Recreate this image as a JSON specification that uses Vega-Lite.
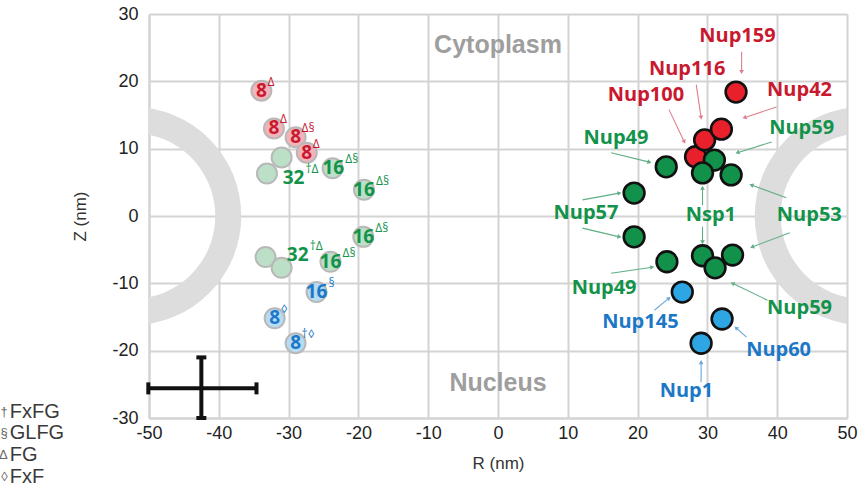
{
  "$schema": "https://vega.github.io/schema/vega-lite/v6.json",
  "width": 698,
  "height": 404,
  "autosize": {"type": "none"},
  "padding": {"left": 149, "top": 14, "right": 21, "bottom": 73},
  "background": "white",
  "datasets": {
    "rings": [{"R": -52.4, "Z": 0}, {"R": 52.4, "Z": 0}],
    "errh": [{"R": -50.1, "R2": -34.6, "Z": -25.6}],
    "errv": [{"R": -42.5, "Z": -21.0, "Z2": -30.0}],
    "capv": [{"R": -50.1, "Z": -25.6}, {"R": -34.6, "Z": -25.6}],
    "caph": [{"R": -42.5, "Z": -21.0}, {"R": -42.5, "Z": -30.0}],
    "arrows": [
      {"R": 34.9, "Z": 24.4, "R2": 34.9, "Z2": 21.4, "grp": "red"},
      {"R": 28.4, "Z": 19.5, "R2": 29.1, "Z2": 14.6, "grp": "red"},
      {"R": 24.5, "Z": 15.8, "R2": 26.7, "Z2": 11.0, "grp": "red"},
      {"R": 39.9, "Z": 16.2, "R2": 35.3, "Z2": 14.6, "grp": "red"},
      {"R": 16.2, "Z": 9.4, "R2": 21.7, "Z2": 8.0, "grp": "green"},
      {"R": 39.2, "Z": 11.0, "R2": 34.3, "Z2": 9.4, "grp": "green"},
      {"R": 12.1, "Z": 2.4, "R2": 17.4, "Z2": 3.4, "grp": "green"},
      {"R": 12.1, "Z": -1.8, "R2": 17.4, "Z2": -3.1, "grp": "green"},
      {"R": 29.3, "Z": 1.6, "R2": 29.3, "Z2": 4.2, "grp": "green"},
      {"R": 29.3, "Z": -1.6, "R2": 29.3, "Z2": -3.9, "grp": "green"},
      {"R": 41.3, "Z": 2.7, "R2": 36.3, "Z2": 4.6, "grp": "green"},
      {"R": 41.8, "Z": -2.5, "R2": 36.4, "Z2": -4.6, "grp": "green"},
      {"R": 16.2, "Z": -8.5, "R2": 22.1, "Z2": -7.6, "grp": "green"},
      {"R": 38.6, "Z": -12.5, "R2": 33.6, "Z2": -10.0, "grp": "green"},
      {"R": 22.4, "Z": -14.0, "R2": 24.5, "Z2": -12.2, "grp": "blue"},
      {"R": 35.6, "Z": -18.0, "R2": 34.1, "Z2": -16.6, "grp": "blue"},
      {"R": 29.1, "Z": -24.7, "R2": 29.1, "Z2": -21.7, "grp": "blue"}
    ],
    "faded": [
      {"R": -33.9, "Z": 18.6, "grp": "red"},
      {"R": -32.1, "Z": 13.0, "grp": "red"},
      {"R": -29.0, "Z": 11.7, "grp": "red"},
      {"R": -27.4, "Z": 9.4, "grp": "red"},
      {"R": -31.0, "Z": 8.7, "grp": "green"},
      {"R": -33.1, "Z": 6.3, "grp": "green"},
      {"R": -23.7, "Z": 7.1, "grp": "green"},
      {"R": -19.2, "Z": 3.9, "grp": "green"},
      {"R": -19.3, "Z": -3.1, "grp": "green"},
      {"R": -33.3, "Z": -6.1, "grp": "green"},
      {"R": -31.0, "Z": -7.7, "grp": "green"},
      {"R": -24.0, "Z": -6.8, "grp": "green"},
      {"R": -26.0, "Z": -11.3, "grp": "blue"},
      {"R": -32.0, "Z": -15.2, "grp": "blue"},
      {"R": -29.0, "Z": -18.9, "grp": "blue"}
    ],
    "nums": [
      {"R": -33.9, "Z": 18.6, "num": "8", "sup": "Δ", "grp": "red"},
      {"R": -32.1, "Z": 13.0, "num": "8", "sup": "Δ", "grp": "red"},
      {"R": -29.0, "Z": 11.7, "num": "8", "sup": "Δ§", "grp": "red"},
      {"R": -27.4, "Z": 9.4, "num": "8", "sup": "Δ", "grp": "red"},
      {"R": -29.3, "Z": 5.6, "num": "32", "sup": "†Δ", "grp": "green"},
      {"R": -23.6, "Z": 7.1, "num": "16", "sup": "Δ§", "grp": "green"},
      {"R": -19.2, "Z": 3.9, "num": "16", "sup": "Δ§", "grp": "green"},
      {"R": -19.3, "Z": -3.1, "num": "16", "sup": "Δ§", "grp": "green"},
      {"R": -28.7, "Z": -5.8, "num": "32", "sup": "†Δ", "grp": "green"},
      {"R": -24.0, "Z": -6.8, "num": "16", "sup": "Δ§", "grp": "green"},
      {"R": -26.0, "Z": -11.3, "num": "16", "sup": "§", "grp": "blue"},
      {"R": -32.0, "Z": -15.2, "num": "8", "sup": "◊", "grp": "blue"},
      {"R": -29.0, "Z": -18.9, "num": "8", "sup": "†◊", "grp": "blue"}
    ],
    "nups": [
      {"name": "Nup100", "R": 28.3, "Z": 8.8, "grp": "red"},
      {"name": "Nup116", "R": 29.6, "Z": 11.3, "grp": "red"},
      {"name": "Nup42", "R": 32.0, "Z": 12.9, "grp": "red"},
      {"name": "Nup159", "R": 34.1, "Z": 18.4, "grp": "red"},
      {"name": "Nup49", "R": 24.1, "Z": 7.3, "grp": "green"},
      {"name": "Nup57", "R": 19.5, "Z": 3.4, "grp": "green"},
      {"name": "Nup59", "R": 31.0, "Z": 8.3, "grp": "green"},
      {"name": "Nsp1", "R": 29.3, "Z": 6.4, "grp": "green"},
      {"name": "Nup53", "R": 33.4, "Z": 6.1, "grp": "green"},
      {"name": "Nup57", "R": 19.5, "Z": -3.1, "grp": "green"},
      {"name": "Nup49", "R": 24.2, "Z": -6.8, "grp": "green"},
      {"name": "Nsp1", "R": 29.3, "Z": -5.9, "grp": "green"},
      {"name": "Nup53", "R": 33.6, "Z": -5.8, "grp": "green"},
      {"name": "Nup59", "R": 31.1, "Z": -7.7, "grp": "green"},
      {"name": "Nup145", "R": 26.4, "Z": -11.3, "grp": "blue"},
      {"name": "Nup60", "R": 32.1, "Z": -15.3, "grp": "blue"},
      {"name": "Nup1", "R": 29.1, "Z": -18.9, "grp": "blue"}
    ],
    "labels": [
      {"name": "Nup159", "R": 34.3, "Z": 26.7, "grp": "red"},
      {"name": "Nup116", "R": 27.1, "Z": 21.8, "grp": "red"},
      {"name": "Nup100", "R": 21.2, "Z": 18.0, "grp": "red"},
      {"name": "Nup42", "R": 43.2, "Z": 18.7, "grp": "red"},
      {"name": "Nup49", "R": 16.9, "Z": 11.6, "grp": "green"},
      {"name": "Nup59", "R": 43.5, "Z": 13.1, "grp": "green"},
      {"name": "Nup57", "R": 12.6, "Z": 0.4, "grp": "green"},
      {"name": "Nsp1", "R": 30.5, "Z": 0.1, "grp": "green"},
      {"name": "Nup53", "R": 44.6, "Z": 0.1, "grp": "green"},
      {"name": "Nup49", "R": 15.2, "Z": -10.7, "grp": "green"},
      {"name": "Nup59", "R": 43.2, "Z": -13.7, "grp": "green"},
      {"name": "Nup145", "R": 20.4, "Z": -15.8, "grp": "blue"},
      {"name": "Nup60", "R": 40.2, "Z": -19.9, "grp": "blue"},
      {"name": "Nup1", "R": 27.0, "Z": -26.0, "grp": "blue"}
    ],
    "regions": [
      {"R": 0, "Z": 25.4, "t": "Cytoplasm"},
      {"R": 0, "Z": -24.8, "t": "Nucleus"}
    ],
    "legend": [
      {"R": -70.1, "Z": -29.1, "sym": "†", "t": "FxFG"},
      {"R": -70.1, "Z": -32.2, "sym": "§", "t": "GLFG"},
      {"R": -70.1, "Z": -35.5, "sym": "Δ", "t": "FG"},
      {"R": -70.1, "Z": -38.8, "sym": "◊", "t": "FxF"}
    ]
  },
  "resolve": {"scale": {"color": "independent"}},
  "layer": [
    {
      "data": {"name": "rings"},
      "mark": {"type": "arc", "outerRadius": 109, "innerRadius": 83, "theta": 0, "theta2": 6.2832, "color": "#dddddd", "clip": true},
      "encoding": {
        "x": {"field": "R", "type": "quantitative", "title": "R (nm)", "scale": {"domain": [-50, 50], "nice": false, "zero": false}},
        "y": {"field": "Z", "type": "quantitative", "title": "Z (nm)", "scale": {"domain": [-30, 30], "nice": false, "zero": false}}
      }
    },
    {
      "data": {"name": "errh"},
      "mark": {"type": "rule", "color": "#111111", "strokeWidth": 4},
      "encoding": {
        "x": {"field": "R", "type": "quantitative", "title": "R (nm)"},
        "x2": {"field": "R2"},
        "y": {"field": "Z", "type": "quantitative", "title": "Z (nm)"}
      }
    },
    {
      "data": {"name": "errv"},
      "mark": {"type": "rule", "color": "#111111", "strokeWidth": 4},
      "encoding": {
        "x": {"field": "R", "type": "quantitative", "title": "R (nm)"},
        "y": {"field": "Z", "type": "quantitative", "title": "Z (nm)"},
        "y2": {"field": "Z2"}
      }
    },
    {
      "data": {"name": "capv"},
      "mark": {"type": "tick", "orient": "vertical", "color": "#111111", "size": 12, "thickness": 4, "opacity": 1},
      "encoding": {
        "x": {"field": "R", "type": "quantitative", "title": "R (nm)"},
        "y": {"field": "Z", "type": "quantitative", "title": "Z (nm)"}
      }
    },
    {
      "data": {"name": "caph"},
      "mark": {"type": "tick", "orient": "horizontal", "color": "#111111", "size": 10, "thickness": 4, "opacity": 1},
      "encoding": {
        "x": {"field": "R", "type": "quantitative", "title": "R (nm)"},
        "y": {"field": "Z", "type": "quantitative", "title": "Z (nm)"}
      }
    },
    {
      "data": {"name": "arrows"},
      "mark": {"type": "rule", "strokeWidth": 1.1},
      "encoding": {
        "x": {"field": "R", "type": "quantitative", "title": "R (nm)"},
        "x2": {"field": "R2"},
        "y": {"field": "Z", "type": "quantitative", "title": "Z (nm)"},
        "y2": {"field": "Z2"},
        "color": {"field": "grp", "type": "nominal", "legend": null, "scale": {"domain": ["red", "green", "blue"], "range": ["#df7f8c", "#5fae84", "#6aa9da"]}}
      }
    },
    {
      "data": {"name": "arrows"},
      "transform": [{"calculate": "atan2(datum.R2 - datum.R, datum.Z2 - datum.Z) * 180 / PI", "as": "ang"}],
      "mark": {"type": "point", "shape": "triangle-up", "filled": true, "size": 22, "opacity": 1},
      "encoding": {
        "x": {"field": "R2", "type": "quantitative", "title": "R (nm)"},
        "y": {"field": "Z2", "type": "quantitative", "title": "Z (nm)"},
        "angle": {"field": "ang", "type": "quantitative", "scale": null},
        "color": {"field": "grp", "type": "nominal", "legend": null, "scale": {"domain": ["red", "green", "blue"], "range": ["#df7f8c", "#5fae84", "#6aa9da"]}}
      }
    },
    {
      "data": {"name": "faded"},
      "mark": {"type": "point", "filled": true, "size": 400, "stroke": "#b8b8b8", "strokeWidth": 2, "opacity": 1},
      "encoding": {
        "x": {"field": "R", "type": "quantitative", "title": "R (nm)"},
        "y": {"field": "Z", "type": "quantitative", "title": "Z (nm)"},
        "color": {"field": "grp", "type": "nominal", "legend": null, "scale": {"domain": ["red", "green", "blue"], "range": ["#f3b3b9", "#bcdfc8", "#b6dcf4"]}}
      }
    },
    {
      "data": {"name": "nups"},
      "mark": {"type": "point", "filled": true, "size": 430, "stroke": "#111111", "strokeWidth": 2.6, "opacity": 1},
      "encoding": {
        "x": {"field": "R", "type": "quantitative", "title": "R (nm)"},
        "y": {"field": "Z", "type": "quantitative", "title": "Z (nm)"},
        "color": {"field": "grp", "type": "nominal", "legend": null, "scale": {"domain": ["red", "green", "blue"], "range": ["#e8202c", "#12914a", "#2ea6e4"]}}
      }
    },
    {
      "data": {"name": "nums"},
      "mark": {"type": "text", "font": "Open Sans", "fontWeight": "bold", "fontSize": 19, "align": "center", "baseline": "middle"},
      "encoding": {
        "x": {"field": "R", "type": "quantitative", "title": "R (nm)"},
        "y": {"field": "Z", "type": "quantitative", "title": "Z (nm)"},
        "text": {"field": "num"},
        "color": {"field": "grp", "type": "nominal", "legend": null, "scale": {"domain": ["red", "green", "blue"], "range": ["#c8192f", "#13924a", "#1c78c6"]}}
      }
    },
    {
      "data": {"name": "nums"},
      "transform": [{"filter": "length(datum.num) == 1"}],
      "mark": {"type": "text", "font": "Open Sans", "fontSize": 12, "align": "left", "baseline": "middle", "dx": 6, "dy": -9},
      "encoding": {
        "x": {"field": "R", "type": "quantitative", "title": "R (nm)"},
        "y": {"field": "Z", "type": "quantitative", "title": "Z (nm)"},
        "text": {"field": "sup"},
        "color": {"field": "grp", "type": "nominal", "legend": null, "scale": {"domain": ["red", "green", "blue"], "range": ["#c8192f", "#13924a", "#1c78c6"]}}
      }
    },
    {
      "data": {"name": "nums"},
      "transform": [{"filter": "length(datum.num) == 2"}],
      "mark": {"type": "text", "font": "Open Sans", "fontSize": 12, "align": "left", "baseline": "middle", "dx": 12, "dy": -9},
      "encoding": {
        "x": {"field": "R", "type": "quantitative", "title": "R (nm)"},
        "y": {"field": "Z", "type": "quantitative", "title": "Z (nm)"},
        "text": {"field": "sup"},
        "color": {"field": "grp", "type": "nominal", "legend": null, "scale": {"domain": ["red", "green", "blue"], "range": ["#c8192f", "#13924a", "#1c78c6"]}}
      }
    },
    {
      "data": {"name": "labels"},
      "mark": {"type": "text", "font": "Open Sans", "fontWeight": "bold", "fontSize": 20, "align": "center", "baseline": "middle"},
      "encoding": {
        "x": {"field": "R", "type": "quantitative", "title": "R (nm)"},
        "y": {"field": "Z", "type": "quantitative", "title": "Z (nm)"},
        "text": {"field": "name"},
        "color": {"field": "grp", "type": "nominal", "legend": null, "scale": {"domain": ["red", "green", "blue"], "range": ["#c8192f", "#13924a", "#1c78c6"]}}
      }
    },
    {
      "data": {"name": "regions"},
      "mark": {"type": "text", "font": "Liberation Sans", "fontWeight": "bold", "fontSize": 25, "align": "center", "baseline": "middle", "color": "#9e9e9e"},
      "encoding": {
        "x": {"field": "R", "type": "quantitative", "title": "R (nm)"},
        "y": {"field": "Z", "type": "quantitative", "title": "Z (nm)"},
        "text": {"field": "t"}
      }
    },
    {
      "data": {"name": "legend"},
      "mark": {"type": "text", "font": "Liberation Sans", "fontSize": 13, "align": "right", "baseline": "middle", "dx": -1, "color": "#666666"},
      "encoding": {
        "x": {"field": "R", "type": "quantitative", "title": "R (nm)"},
        "y": {"field": "Z", "type": "quantitative", "title": "Z (nm)"},
        "text": {"field": "sym"}
      }
    },
    {
      "data": {"name": "legend"},
      "mark": {"type": "text", "font": "Liberation Sans", "fontSize": 20, "align": "left", "baseline": "middle", "dx": 1, "color": "#3a3a3a"},
      "encoding": {
        "x": {"field": "R", "type": "quantitative", "title": "R (nm)"},
        "y": {"field": "Z", "type": "quantitative", "title": "Z (nm)"},
        "text": {"field": "t"}
      }
    }
  ],
  "config": {
    "view": {"stroke": null},
    "axis": {
      "gridColor": "#d3d3d3",
      "gridWidth": 2,
      "domainColor": "#d3d3d3",
      "domainWidth": 2,
      "ticks": false,
      "labelFont": "Liberation Sans",
      "labelFontSize": 18,
      "labelColor": "#222222",
      "labelFlush": false,
      "labelOverlap": false,
      "labelExpr": "datum.value < 0 ? '-' + abs(datum.value) : '' + datum.value",
      "titleFont": "Liberation Sans",
      "titleFontSize": 17,
      "titleFontWeight": "normal",
      "titleColor": "#333333"
    },
    "axisX": {"labelPadding": 6, "titlePadding": 13, "tickCount": 10},
    "axisY": {"labelPadding": 11, "tickCount": 6, "titleX": -60, "titleAlign": "center", "titleBaseline": "bottom", "titleAngle": 270}
  }
}
